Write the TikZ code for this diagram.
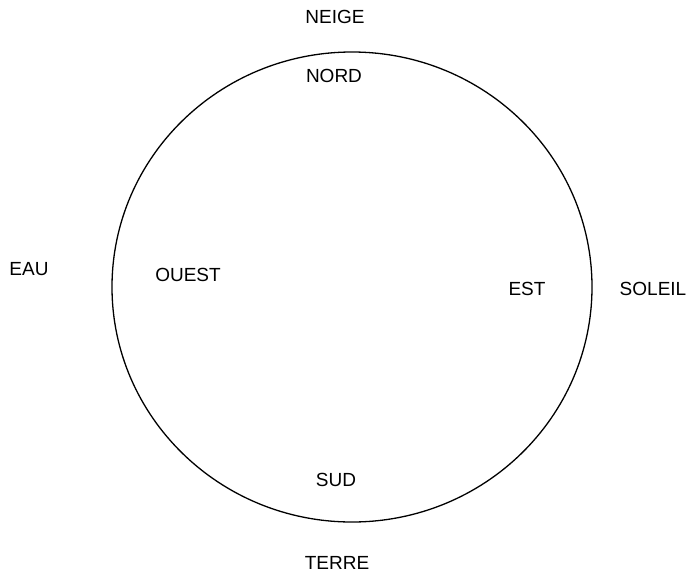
\documentclass[tikz,border=0pt]{standalone}
\usepackage{fontspec}
\usetikzlibrary{shapes.geometric}
\setmainfont{Liberation Sans}
\begin{document}
\begin{tikzpicture}[x=1pt,y=-1pt,
  lbl/.style={font=\fontsize{19}{21}\selectfont, inner sep=0pt, anchor=center}]
\useasboundingbox (0,0) rectangle (694,574);
\node[draw, line width=1.3pt, ellipse, minimum width=480pt, minimum height=470pt, inner sep=0pt] (circ) at (352,287) {};
\node[lbl] (neige) at (335,17) {NEIGE};
\node[lbl] (nord) at (334,76) {NORD};
\node[lbl] (eau) at (29,269) {EAU};
\node[lbl] (ouest) at (188,275) {OUEST};
\node[lbl] (est) at (527,289) {EST};
\node[lbl] (soleil) at (653,289) {SOLEIL};
\node[lbl] (sud) at (336,480) {SUD};
\node[lbl] (terre) at (337,563) {TERRE};
\end{tikzpicture}
\end{document}
